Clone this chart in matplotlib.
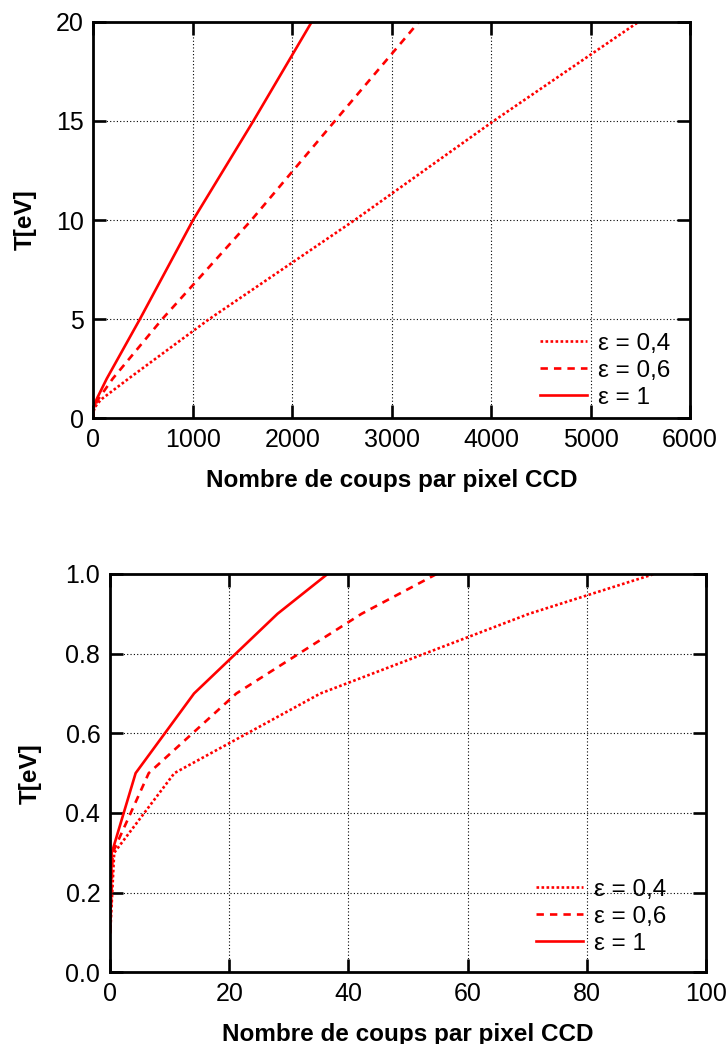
import matplotlib
matplotlib.use("Agg")
import matplotlib.pyplot as plt
import numpy as np

plt.rcParams['font.family'] = ['Liberation Sans', 'DejaVu Sans']

# Temperature values (eV)
T_vals = [0.1, 0.3, 0.5, 0.7, 0.9, 1.0, 2.0, 5.0, 10.0, 15.0, 20.0]
# Counts per CCD pixel for each emissivity
counts_eps1 = [0.02, 0.3, 4.3, 14.1, 28.1, 36.5, 135, 468, 1003, 1610, 2197]
counts_eps06 = [0.03, 0.45, 6.5, 21.2, 42.2, 54.8, 195, 692, 1590, 2430, 3275]
counts_eps04 = [0.05, 0.7, 10.8, 35.3, 70.3, 91.3, 354, 1164, 2629, 4027, 5485]

labels = ["ε = 0,4", "ε = 0,6", "ε = 1"]
series = [counts_eps04, counts_eps06, counts_eps1]
styles = [(0, (1, 0.9)), (0, (2.8, 2.3)), '-']

xlabel = "Nombre de coups par pixel CCD"
ylabel = "T[eV]"

top_xticks = [0, 1000, 2000, 3000, 4000, 5000, 6000]
top_yticks = [0, 5, 10, 15, 20]
bot_xticks = [0, 20, 40, 60, 80, 100]
bot_yticks = [0.0, 0.2, 0.4, 0.6, 0.8, 1.0]

fig = plt.figure(figsize=(7.28, 10.44), dpi=100)
ax1 = fig.add_axes([0.1282, 0.5993, 0.8196, 0.3799])
ax2 = fig.add_axes([0.1511, 0.0687, 0.8187, 0.3815])

def style_ax(ax, xt, yt, yfmt, ylpad):
    for s in ax.spines.values():
        s.set_linewidth(2.0)
    ax.set_xticks(xt)
    ax.set_yticks(yt)
    ax.set_yticklabels([yfmt(v) for v in yt])
    ax.set_xlim(xt[0], xt[-1])
    ax.set_ylim(yt[0], yt[-1])
    ax.tick_params(direction='in', length=9.5, width=1.9, top=True, right=True,
                   labelsize=18, pad=7)
    ax.grid(True, color='black', linestyle=(0, (1, 2)), linewidth=0.8)
    ax.set_axisbelow(True)
    ax.set_xlabel(xlabel, fontsize=17.5, fontweight='bold', labelpad=12)
    ax.set_ylabel(ylabel, fontsize=17.5, fontweight='bold', labelpad=ylpad)

for ax in (ax1, ax2):
    for cnt, lab, ls in zip(series, labels, styles):
        ax.plot(cnt, T_vals, color='#ff0000', linestyle=ls, linewidth=1.9,
                label=lab, clip_on=True)

style_ax(ax1, top_xticks, top_yticks, lambda v: f"{v:d}", 14)
style_ax(ax2, bot_xticks, bot_yticks, lambda v: f"{v:.1f}", 17)

ax1.legend(loc='lower right', frameon=False, fontsize=17.5, handlelength=1.95,
           handletextpad=0.45, labelspacing=0.2, borderaxespad=0.0,
           bbox_to_anchor=(0.983, 0.0))
ax2.legend(loc='lower right', frameon=False, fontsize=17.5, handlelength=1.95,
           handletextpad=0.45, labelspacing=0.2, borderaxespad=0.0,
           bbox_to_anchor=(0.95, 0.02))

fig.savefig("out.png", dpi=100)
